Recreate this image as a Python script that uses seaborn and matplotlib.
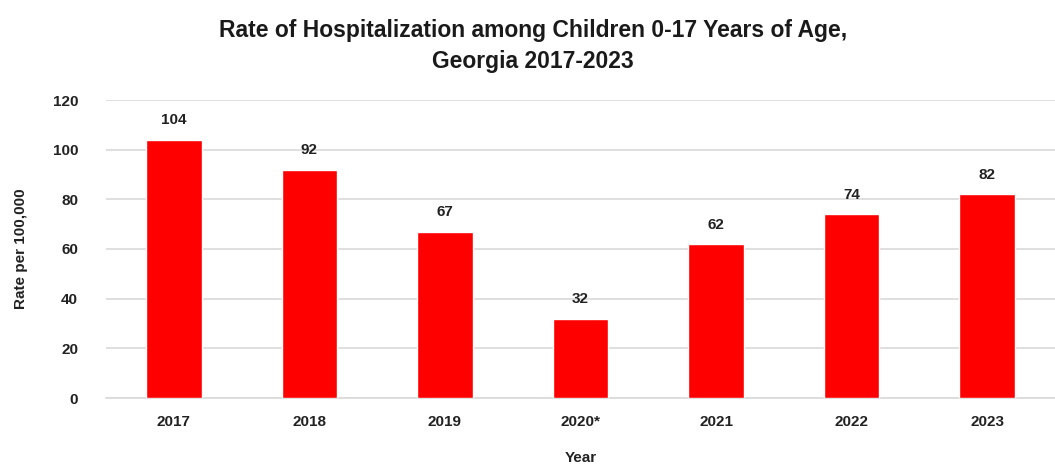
import matplotlib
matplotlib.use('Agg')
import matplotlib.pyplot as plt
from matplotlib import font_manager
import seaborn as sns
import pandas as pd

# data
years = ['2017', '2018', '2019', '2020*', '2021', '2022', '2023']
rates = [104, 92, 67, 32, 62, 74, 82]

df = pd.DataFrame({'Year': years, 'Rate': rates})

sns.set_style('white')
available = {f.name for f in font_manager.fontManager.ttflist}
narrow = 'Liberation Sans Narrow' if 'Liberation Sans Narrow' in available else 'Liberation Sans'
plt.rcParams['font.family'] = ['Liberation Sans', 'DejaVu Sans']

fig = plt.figure(figsize=(10.55, 4.7), dpi=100)
ax = fig.add_axes([106 / 1055, 72 / 470, 949 / 1055, 298 / 470])

sns.barplot(data=df, x='Year', y='Rate', color='#ff0000', saturation=1,
            width=0.41, ax=ax, zorder=3)

for i, v in enumerate(rates):
    ax.annotate(str(v), (i, v), xytext=(0, 9), textcoords='offset points',
                ha='center', va='bottom', fontsize=11, fontweight='bold',
                color='#222222')

ax.set_ylim(0, 120)
ax.set_yticks(range(0, 121, 20))
ax.yaxis.grid(True, color='#d9d9d9', linewidth=1.2, zorder=0)
ax.set_axisbelow(True)
sns.despine(ax=ax, left=True, right=True, top=True, bottom=False)
ax.spines['bottom'].set_color('#d9d9d9')
ax.spines['bottom'].set_linewidth(1.2)
ax.tick_params(axis='both', length=0, labelsize=11, labelcolor='#222222')
ax.tick_params(axis='x', pad=12)
ax.tick_params(axis='y', pad=20)
for lbl in ax.get_xticklabels() + ax.get_yticklabels():
    lbl.set_fontweight('bold')

ax.set_xlabel('Year', fontsize=11, fontweight='bold', family=narrow,
              color='#222222', labelpad=16)
ax.set_ylabel('Rate per 100,000', fontsize=11, fontweight='bold',
              color='#222222', labelpad=18)

fig.suptitle('Rate of Hospitalization among Children 0-17 Years of Age,\nGeorgia 2017-2023',
             x=533 / 1055, y=0.96, fontsize=16.5, fontweight='bold',
             family=narrow, color='#1a1a1a', linespacing=1.45)

fig.savefig('out.png', dpi=100)
